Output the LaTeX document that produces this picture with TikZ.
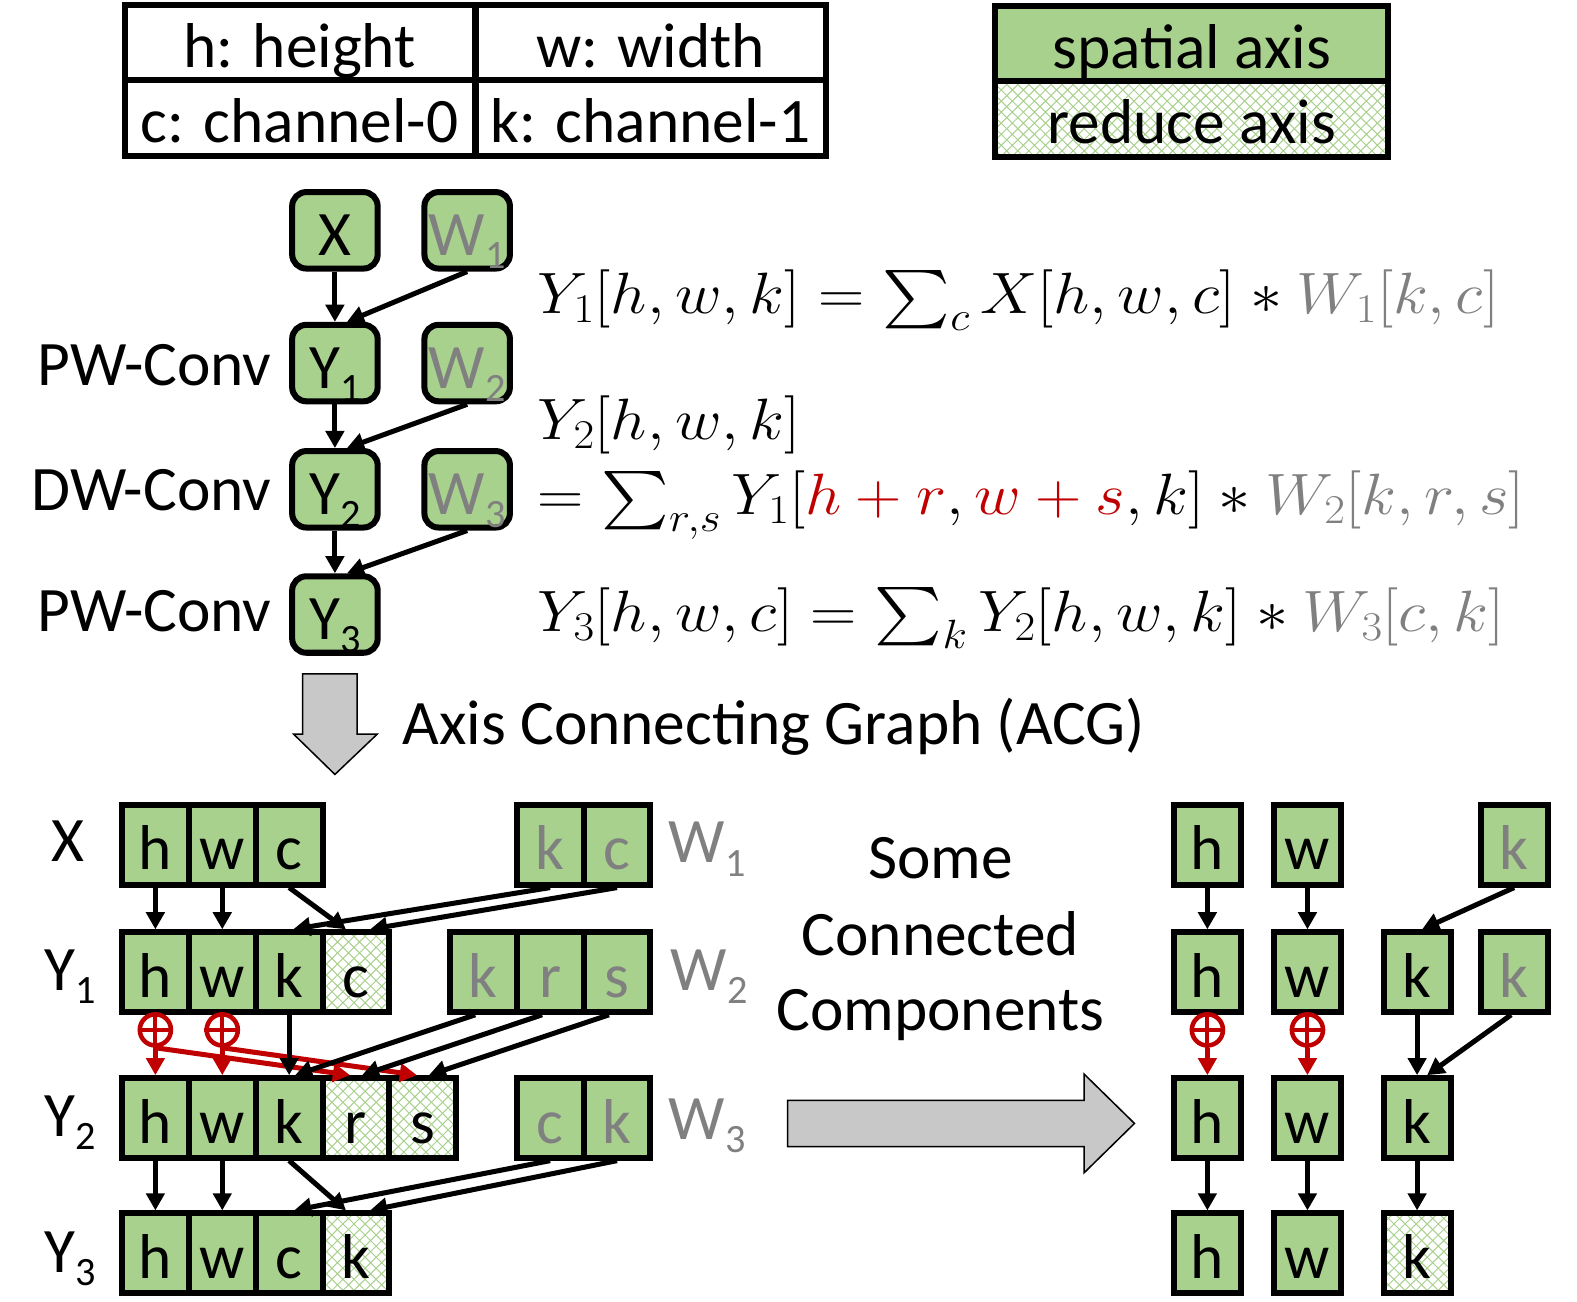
\RequirePackage{fix-cm}
\documentclass[tikz,border=0pt]{standalone}
\usepackage{amsmath}
\DeclareFontFamily{OMX}{cmex}{}
\DeclareFontShape{OMX}{cmex}{m}{n}{<->cmex10}{}
\usepackage{fontspec}
\setmainfont{Carlito}
\usetikzlibrary{arrows.meta,calc,patterns}
\definecolor{sp}{HTML}{A9D18E}
\definecolor{wgray}{HTML}{808080}
\definecolor{acc}{HTML}{C00000}
\definecolor{arrowfill}{HTML}{C8C8C8}
% light diamond hatching used for reduce axes
\pgfdeclarepatternformonly{diamondhatch}{\pgfpoint{-1pt}{-1pt}}{\pgfpoint{12pt}{12pt}}{\pgfpoint{11pt}{11pt}}{%
  \pgfsetlinewidth{1pt}%
  \pgfpathmoveto{\pgfpoint{0pt}{0pt}}\pgfpathlineto{\pgfpoint{11pt}{11pt}}%
  \pgfpathmoveto{\pgfpoint{0pt}{11pt}}\pgfpathlineto{\pgfpoint{11pt}{0pt}}%
  \pgfusepath{stroke}}
\newcommand\figfont{\fontsize{63}{70}\selectfont}
\newcommand\eqfont{\fontsize{58}{62}\selectfont}
\newcommand\lsub[1]{\raisebox{-13pt}{\fontsize{40}{40}\selectfont #1}}
\newcommand\eqbox[1]{\scalebox{1.10}[1]{#1}}
\begin{document}
\begin{tikzpicture}[x=1pt,y=-1pt,
  every node/.style={inner sep=0pt},
  txt/.style={font=\figfont},
  eq/.style={anchor=base west, font=\eqfont},
  rbox/.style={draw, line width=6pt, rounded corners=14pt, fill=sp, minimum width=85pt, minimum height=76pt, font=\figfont, text height=50pt, text depth=0pt},
  cellbase/.style={draw, line width=6pt, minimum width=66.5pt, minimum height=79pt, font=\figfont, text height=50pt, text depth=0pt},
  sc/.style={cellbase, fill=sp},
  rc/.style={cellbase, pattern=diamondhatch, pattern color=sp},
  wt/.style={text=wgray},
  lg/.style={draw, line width=6pt, minimum width=348pt, minimum height=75pt, font=\figfont, text height=49pt, text depth=0pt},
  arr/.style={line width=5pt, -{Triangle[length=17pt,width=18pt]}},
  rarr/.style={arr, draw=acc},
  oplus/.style={circle, draw=acc, line width=4.5pt, minimum size=31pt},
  pluscross/.style={draw=acc, line width=4pt},
  bigarrow/.style={draw, line width=1.5pt, fill=arrowfill, line join=miter}
]
\useasboundingbox (0,0) rectangle (1568,1294);

% ---------- legends ----------
\node[lg] (lh) at (298,42.5) {h: height};
\node[lg] (lw) at (647,42.5) {w: width};
\node[lg] (lc) at (298,117.5) {c: channel-0};
\node[lg] (lk) at (647,117.5) {k: channel-1};
\node[lg, minimum width=391pt, fill=sp] (lsp) at (1185,43.5) {spatial axis};
\node[lg, minimum width=391pt, pattern=diamondhatch, pattern color=sp] (lred) at (1185,118.5) {reduce axis};

% ---------- operator graph ----------
\node[rbox] (X) at (333,229) {X};
\node[rbox, wt] (W1) at (464.5,229) {W\lsub{1}};
\node[rbox] (Y1) at (333,361) {Y\lsub{1}};
\node[rbox, wt] (W2) at (464.5,361) {W\lsub{2}};
\node[rbox] (Y2) at (333,486.5) {Y\lsub{2}};
\node[rbox, wt] (W3) at (464.5,486.5) {W\lsub{3}};
\node[rbox] (Y3) at (333,611) {Y\lsub{3}};

\draw[arr] (X) -- (Y1);
\draw[arr] (W1.south) -- ($(Y1.north)+(12,0)$);
\draw[arr] (Y1) -- (Y2);
\draw[arr] (W2.south) -- ($(Y2.north)+(12,0)$);
\draw[arr] (Y2) -- (Y3);
\draw[arr] (W3.south) -- ($(Y3.north)+(12,0)$);

\node[txt, anchor=base east] (op1) at (270,383) {PW-Conv};
\node[txt, anchor=base east] (op2) at (270,508) {DW-Conv};
\node[txt, anchor=base east] (op3) at (270,628) {PW-Conv};

% ---------- equations ----------
\node[eq] (eq1) at (534,312)
  {\eqbox{$Y_1[h,w,k] = \sum_c X[h,w,c] \ast \textcolor{wgray}{W_1[k,c]}$}};
\node[eq, text depth=0pt] (eq2a) at (534,437)
  {\eqbox{$Y_2[h,w,k]$}};
\node[eq, text height=40pt] (eq2b) at (534,512)
  {\eqbox{$= \sum_{r,s} Y_1[\textcolor{acc}{h+r}, \textcolor{acc}{w+s}, k] \ast \textcolor{wgray}{W_2[k,r,s]}$}};
\node[eq] (eq3) at (534,628)
  {\eqbox{$Y_3[h,w,c] = \sum_k Y_2[h,w,k] \ast \textcolor{wgray}{W_3[c,k]}$}};

% ---------- transition ----------
\draw[bigarrow] (301,670) -- (355,670) -- (355,730) -- (375,730) -- (333,770) -- (292,730) -- (301,730) -- cycle;
\node[txt, anchor=base west] (acg) at (400,740) {Axis Connecting Graph (ACG)};

% ---------- axis connecting graph ----------
\node[txt, anchor=base] (lX) at (68,857) {X};
\node[txt, anchor=base] (lY1) at (70,985) {Y\lsub{1}};
\node[txt, anchor=base] (lY2) at (70,1130) {Y\lsub{2}};
\node[txt, anchor=base] (lY3) at (70,1265) {Y\lsub{3}};
\node[txt, anchor=base, wt] (lW1) at (703,858) {W\lsub{1}};
\node[txt, anchor=base, wt] (lW2) at (705,985) {W\lsub{2}};
\node[txt, anchor=base, wt] (lW3) at (703,1133) {W\lsub{3}};

% X
\node[sc] (xh) at (154.5,840) {h};
\node[sc] (xw) at (221,840) {w};
\node[sc] (xc) at (287.5,840) {c};
% W1
\node[sc, wt] (w1k) at (547,840) {k};
\node[sc, wt] (w1c) at (613.5,840) {c};
% Y1
\node[sc] (y1h) at (154.5,966.5) {h};
\node[sc] (y1w) at (221,966.5) {w};
\node[sc] (y1k) at (287.5,966.5) {k};
\node[rc] (y1c) at (354,966.5) {c};
% W2
\node[sc, wt] (w2k) at (480.5,966.5) {k};
\node[sc, wt] (w2r) at (547,966.5) {r};
\node[sc, wt] (w2s) at (613.5,966.5) {s};
% Y2
\node[sc] (y2h) at (154.5,1111.5) {h};
\node[sc] (y2w) at (221,1111.5) {w};
\node[sc] (y2k) at (287.5,1111.5) {k};
\node[rc] (y2r) at (354,1111.5) {r};
\node[rc] (y2s) at (420.5,1111.5) {s};
% W3
\node[sc, wt] (w3c) at (547,1111.5) {c};
\node[sc, wt] (w3k) at (613.5,1111.5) {k};
% Y3
\node[sc] (y3h) at (154.5,1246) {h};
\node[sc] (y3w) at (221,1246) {w};
\node[sc] (y3c) at (287.5,1246) {c};
\node[rc] (y3k) at (354,1246) {k};

% X, W1 -> Y1
\draw[arr] (xh) -- (y1h);
\draw[arr] (xw) -- (y1w);
\draw[arr] (xc.south) -- ($(y1c.north)+(-10,0)$);
\draw[arr] (w1k.south) -- ($(y1k.north)+(4,0)$);
\draw[arr] (w1c.south) -- ($(y1c.north)+(14,0)$);
% Y1, W2 -> Y2
\node[oplus] (ph) at (154.5,1024) {};
\node[oplus] (pw) at (221,1024) {};
\draw[pluscross] (ph.north) -- (ph.south) (ph.west) -- (ph.east);
\draw[pluscross] (pw.north) -- (pw.south) (pw.west) -- (pw.east);
\draw[rarr] (ph.south) -- (y2h.north);
\draw[rarr] (pw.south) -- (y2w.north);
\draw[rarr] (ph.south) -- ($(y2r.north)+(-6,0)$);
\draw[rarr] (pw.south) -- ($(y2s.north)+(-6,0)$);
\draw[arr] (y1k) -- (y2k);
\draw[arr] ($(w2k.south)+(-8,0)$) -- ($(y2k.north)+(6,0)$);
\draw[arr] ($(w2r.south)+(-8,0)$) -- ($(y2r.north)+(6,0)$);
\draw[arr] ($(w2s.south)+(-8,0)$) -- ($(y2s.north)+(6,0)$);
% Y2, W3 -> Y3
\draw[arr] (y2h) -- (y3h);
\draw[arr] (y2w) -- (y3w);
\draw[arr] (y2k.south) -- ($(y3k.north)+(-10,0)$);
\draw[arr] (w3c.south) -- ($(y3c.north)+(5,0)$);
\draw[arr] (w3k.south) -- ($(y3k.north)+(14,0)$);

% ---------- connected components ----------
\node[txt, anchor=base] (cc1) at (935,873) {Some};
\node[txt, anchor=base] (cc2) at (935,950) {Connected};
\node[txt, anchor=base] (cc3) at (935,1025) {Components};
\draw[bigarrow] (783,1094) -- (1078,1094) -- (1078,1068) -- (1128,1117) -- (1078,1166) -- (1078,1140) -- (783,1140) -- cycle;

\begin{scope}[every node/.append style={minimum width=65pt}]
\node[sc] (ra1) at (1200.5,840) {h};
\node[sc] (rb1) at (1300,840) {w};
\node[sc, wt] (rd1) at (1505.5,840) {k};
\node[sc] (ra2) at (1200.5,966.5) {h};
\node[sc] (rb2) at (1300,966.5) {w};
\node[sc] (rc2) at (1409,966.5) {k};
\node[sc, wt] (rd2) at (1505.5,966.5) {k};
\node[sc] (ra3) at (1200.5,1111.5) {h};
\node[sc] (rb3) at (1300,1111.5) {w};
\node[sc] (rc3) at (1409,1111.5) {k};
\node[sc] (ra4) at (1200.5,1246) {h};
\node[sc] (rb4) at (1300,1246) {w};
\node[rc] (rc4) at (1409,1246) {k};
\end{scope}
\node[oplus] (qh) at (1200.5,1024) {};
\node[oplus] (qw) at (1300,1024) {};
\draw[pluscross] (qh.north) -- (qh.south) (qh.west) -- (qh.east);
\draw[pluscross] (qw.north) -- (qw.south) (qw.west) -- (qw.east);
\draw[arr] (ra1) -- (ra2);
\draw[arr] (rb1) -- (rb2);
\draw[arr] (rd1.south) -- ($(rc2.north)+(5,0)$);
\draw[rarr] (qh.south) -- (ra3.north);
\draw[rarr] (qw.south) -- (rb3.north);
\draw[arr] (rc2) -- (rc3);
\draw[arr] ($(rd2.south)+(-3,0)$) -- ($(rc3.north)+(10,0)$);
\draw[arr] (ra3) -- (ra4);
\draw[arr] (rb3) -- (rb4);
\draw[arr] (rc3) -- (rc4);
\end{tikzpicture}
\end{document}
